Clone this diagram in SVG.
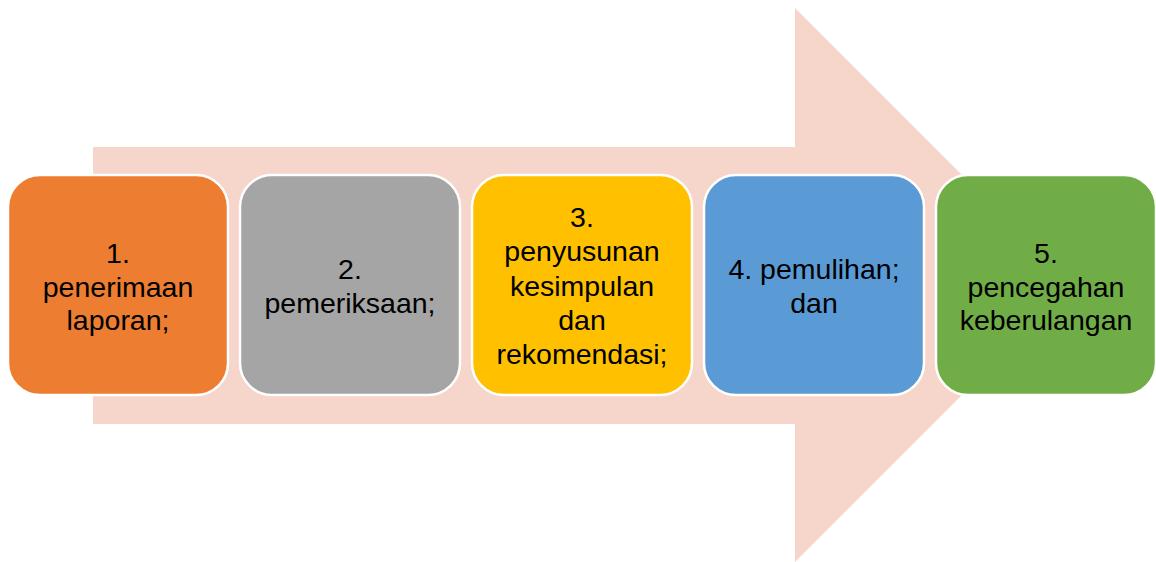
<svg xmlns="http://www.w3.org/2000/svg" width="1156" height="562" viewBox="0 0 1156 562">
<style>
.box{stroke:#fff;stroke-width:2.5}
.t{font-family:"Liberation Sans",Arial,sans-serif;font-size:28.5px;fill:#000;text-anchor:middle}
</style>
<rect width="1156" height="562" fill="#fff"/>
<g id="arrow">
<polygon points="93,147 795,147 795,8 1072,285 795,562 795,424 93,424" fill="#F6D5CB"/>
</g>
<g id="connectors"></g>
<g id="n1">
<rect class="box" x="8" y="175" width="220" height="220" rx="32" fill="#ED7D31"/>
<text class="t" x="118" y="263">1.</text>
<text class="t" x="118" y="297">penerimaan</text>
<text class="t" x="118" y="330">laporan;</text>
</g>
<g id="n2">
<rect class="box" x="240" y="175" width="220" height="220" rx="32" fill="#A5A5A5"/>
<text class="t" x="350" y="279">2.</text>
<text class="t" x="350" y="313">pemeriksaan;</text>
</g>
<g id="n3">
<rect class="box" x="472" y="175" width="220" height="220" rx="32" fill="#FFC000"/>
<text class="t" x="582" y="227">3.</text>
<text class="t" x="582" y="261">penyusunan</text>
<text class="t" x="582" y="296">kesimpulan</text>
<text class="t" x="582" y="330">dan</text>
<text class="t" x="582" y="364">rekomendasi;</text>
</g>
<g id="n4">
<rect class="box" x="704" y="175" width="220" height="220" rx="32" fill="#5B9BD5"/>
<text class="t" x="814" y="279">4. pemulihan;</text>
<text class="t" x="814" y="313">dan</text>
</g>
<g id="n5">
<rect class="box" x="936" y="175" width="220" height="220" rx="32" fill="#70AD47"/>
<text class="t" x="1046" y="263">5.</text>
<text class="t" x="1046" y="297">pencegahan</text>
<text class="t" x="1046" y="330">keberulangan</text>
</g>
</svg>
